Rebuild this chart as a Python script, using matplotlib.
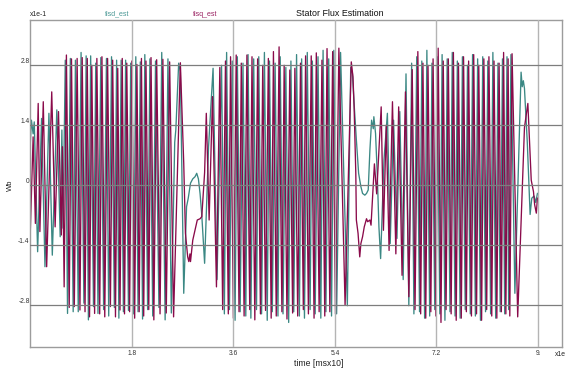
import matplotlib
matplotlib.use('Agg')
import matplotlib.pyplot as plt

plt.rcParams['font.family'] = ['Liberation Sans', 'DejaVu Sans']

# flsd_est (teal) - turning points, units x1e-1 Wb
t_flsd = [0.00, 0.02, 0.05, 0.07, 0.13, 0.20, 0.26, 0.33, 0.39, 0.47, 0.53, 0.56, 0.58, 0.62,
          0.66, 0.71, 0.76, 0.80, 0.85, 0.90, 0.95, 0.99, 1.03, 1.07, 1.12, 1.16, 1.20, 1.25,
          1.30, 1.35, 1.39, 1.44, 1.49, 1.53, 1.57, 1.61, 1.65, 1.69, 1.74, 1.78, 1.83, 1.87,
          1.91, 1.95, 1.99, 2.03, 2.08, 2.12, 2.17, 2.22, 2.28, 2.33, 2.39, 2.44, 2.50,
          2.56, 2.58, 2.63, 2.66, 2.72, 2.75, 2.77, 2.80, 2.84, 2.88, 2.92, 2.95, 2.98, 3.01,
          3.04, 3.09, 3.16, 3.24, 3.31,
          3.39, 3.44, 3.48, 3.53, 3.58, 3.63, 3.67, 3.72, 3.77, 3.82, 3.86, 3.91, 3.96, 4.01,
          4.05, 4.10, 4.15, 4.20, 4.24, 4.29, 4.34, 4.39, 4.43, 4.48, 4.53, 4.58, 4.62, 4.67,
          4.72, 4.77, 4.81, 4.86, 4.91, 4.96, 5.00, 5.05, 5.10, 5.15, 5.19, 5.24, 5.29, 5.34,
          5.38, 5.43, 5.50, 5.62,
          5.68, 5.71, 5.74, 5.78, 5.82, 5.86, 5.89, 5.93, 5.96, 5.99, 6.02, 6.05, 6.08, 6.09,
          6.12, 6.15, 6.18, 6.21, 6.27, 6.33, 6.38, 6.44, 6.50, 6.55, 6.61, 6.66, 6.71, 6.76,
          6.80,
          6.85, 6.90, 6.94, 6.99, 7.03, 7.08, 7.12, 7.17, 7.21, 7.26, 7.30, 7.35, 7.39, 7.44,
          7.48, 7.53, 7.57, 7.62, 7.66, 7.71, 7.75, 7.80, 7.84, 7.89, 7.93, 7.98, 8.02, 8.07,
          8.11, 8.16, 8.20, 8.25, 8.29, 8.33, 8.37, 8.41, 8.45, 8.48, 8.52, 8.59,
          8.70, 8.72, 8.74, 8.76, 8.81, 8.85, 8.86, 8.89, 8.93, 8.96, 8.99]
flsd = [0.98, 1.52, 1.20, 1.48, -1.55, 1.56, -1.90, 1.68, -1.63, 1.76, -1.20, 1.29, -1.00, 2.92,
        -2.99, 2.96, -2.95, 2.92, -2.95, 3.10, -2.75, 3.02, -3.14, 3.02, -2.83, 2.85, -2.99, 2.98,
        -2.90, 2.96, -3.05, 3.00, -2.85, 2.92, -3.10, 2.92, -2.95, 2.92, -2.92, 2.85, -3.00, 3.00,
        -2.95, 2.88, -3.12, 3.05, -2.90, 2.95, -3.05, 2.90, -2.85, 3.10, -3.14, 2.95, -2.98,
        1.00, 1.30, 2.85, 2.65, -2.52, -1.30, -0.50, -0.30, 0.05, 0.15, 0.20, 0.28, 0.15, -0.20,
        -0.70, -1.82, 0.90, 2.73, -2.20,
        2.80, -3.00, 3.10, -2.90, 2.90, -3.15, 3.00, -2.95, 2.85, -3.05, 3.05, -3.10, 2.95, -2.90,
        3.00, -3.00, 3.10, -3.15, 2.90, -2.95, 2.85, -3.05, 3.00, -3.00, 2.75, -3.20, 2.90, -2.95,
        3.05, -3.05, 2.95, -3.10, 3.10, -2.90, 2.90, -3.00, 3.00, -3.10, 3.15, -2.95, 2.95, -3.05,
        3.15, -3.00, 3.10, -2.81,
        2.75, 2.61, 1.91, 1.06, 0.28, -0.03, -0.19, -0.23, -0.19, -0.11, 0.82, 1.52, 1.32, 1.60,
        1.21, 0.28, -0.97, -1.71, 0.60, 1.68, -1.36, 1.52, -1.24, 1.72, -2.20, 2.60, -2.81, 2.85,
        -3.00,
        3.00, -2.95, 2.90, -3.10, 3.15, -3.05, 2.85, -2.90, 3.00, -3.00, 3.05, -3.15, 2.95, -2.95,
        3.10, -3.05, 2.90, -3.10, 3.00, -2.90, 2.80, -3.00, 3.05, -3.05, 2.95, -3.15, 3.00, -2.95,
        2.90, -3.00, 3.10, -3.10, 2.85, -2.95, 2.95, -3.00, 3.00, -2.90, 3.05, -2.52,
        2.64, 2.30, 2.44, 2.26, 1.00, -0.34, -0.68, -0.30, -0.25, -0.40, -0.19]

# flsq_est (maroon)
t_flsq = [0.00, 0.05, 0.09, 0.14, 0.17, 0.23, 0.29, 0.38, 0.44, 0.50, 0.55, 0.57, 0.60,
          0.64, 0.69, 0.73, 0.78, 0.83, 0.88, 0.92, 0.97, 1.01, 1.05, 1.09, 1.14, 1.18, 1.23,
          1.27, 1.32, 1.37, 1.42, 1.46, 1.51, 1.55, 1.59, 1.63, 1.67, 1.71, 1.76, 1.80, 1.85,
          1.89, 1.93, 1.97, 2.01, 2.05, 2.10, 2.14, 2.19, 2.24, 2.30, 2.35, 2.41, 2.47, 2.54,
          2.66, 2.72, 2.75, 2.79, 2.81, 2.83, 2.84, 2.88, 2.96, 3.01, 3.04, 3.09, 3.12, 3.17,
          3.23, 3.30,
          3.36, 3.41, 3.46, 3.51, 3.55, 3.60, 3.65, 3.70, 3.74, 3.79, 3.84, 3.89, 3.93, 3.98,
          4.03, 4.08, 4.12, 4.17, 4.22, 4.27, 4.31, 4.36, 4.41, 4.46, 4.50, 4.55, 4.60, 4.65,
          4.69, 4.74, 4.79, 4.84, 4.88, 4.93, 4.98, 5.03, 5.07, 5.12, 5.17, 5.22, 5.26, 5.31,
          5.36, 5.41, 5.47, 5.58,
          5.69, 5.72, 5.74, 5.77, 5.78, 5.81, 5.84, 5.86, 5.89, 5.92, 5.96, 5.98, 6.02, 6.04,
          6.10, 6.14, 6.22, 6.26, 6.31, 6.36, 6.42, 6.48, 6.53, 6.59, 6.65, 6.71, 6.77, 6.82,
          6.87, 6.92, 6.96, 7.01, 7.05, 7.10, 7.14, 7.19, 7.23, 7.28, 7.32, 7.37, 7.41, 7.46,
          7.50, 7.55, 7.59, 7.64, 7.68, 7.73, 7.77, 7.82, 7.86, 7.91, 7.95, 8.00, 8.04, 8.09,
          8.13, 8.18, 8.22, 8.27, 8.31, 8.35, 8.39, 8.43, 8.47, 8.50, 8.54, 8.64,
          8.76, 8.82, 8.88, 8.92, 8.94, 8.97, 8.99]
flsq = [-1.08, 1.13, -0.89, 1.91, -1.08, 1.95, -1.90, 2.18, -0.97, 1.72, -1.16, 0.90, -2.37,
        3.04, -2.85, 2.95, -2.83, 2.96, -2.91, 2.98, -2.95, 2.96, -3.07, 2.80, -2.99, 2.96, -3.00,
        3.00, -3.07, 2.96, -2.83, 2.92, -3.07, 2.73, -2.91, 2.96, -3.00, 2.85, -2.95, 2.90, -3.10,
        2.82, -2.95, 2.96, -3.05, 2.90, -2.90, 2.98, -3.14, 2.93, -3.00, 2.94, -2.98, 2.88, -3.07,
        2.86, 0.51, -1.12, -1.67, -1.78, -1.60, -1.78, -1.28, -0.81, -0.78, -0.73, 0.30, 1.68, -0.81,
        2.07, -2.37,
        2.75, -2.90, 2.90, -3.00, 3.00, -3.10, 3.04, -2.95, 2.85, -3.05, 3.04, -2.90, 3.00, -3.14,
        2.95, -3.00, 2.80, -2.92, 2.96, -3.10, 3.12, -3.05, 3.23, -2.95, 2.80, -3.12, 2.69, -2.98,
        2.73, -3.05, 2.85, -2.90, 3.02, -3.00, 3.02, -3.10, 3.09, -2.95, 2.92, -3.05, 3.19, -2.95,
        3.12, -3.00, 3.20, -2.80,
        2.88, 2.53, 1.83, 0.28, -0.81, -1.12, -1.67, -1.36, -1.20, -0.97, -0.78, -0.85, -0.81, -0.93,
        0.50, -0.20, 1.83, -1.05, 1.40, -1.52, 1.95, -1.60, 1.83, -2.10, 2.18, -2.60, 2.70, -2.90,
        3.12, -3.00, 2.85, -3.10, 2.80, -2.95, 2.95, -3.05, 3.20, -3.20, 2.90, -2.90, 2.95, -3.00,
        3.10, -3.15, 2.85, -3.10, 3.00, -2.95, 2.90, -3.05, 3.05, -3.00, 2.80, -3.15, 2.95, -2.90,
        3.00, -3.05, 2.90, -3.10, 2.85, -2.95, 3.10, -3.00, 2.95, -3.05, 3.07, -3.07,
        1.35, 1.91, 0.12, -0.15, -0.45, -0.65, -0.30]

xticks = [1.8, 3.6, 5.4, 7.2, 9.0]
xtick_labels = ['1.8', '3.6', '5.4', '7.2', '9.']
yticks = [-2.8, -1.4, 0.0, 1.4, 2.8]
ytick_labels = ['-2.8', '-1.4', '0', '1.4', '2.8']

teal = '#3b8884'
maroon = '#8a0a4a'

W, H = 566, 369
fig = plt.figure(figsize=(W / 100, H / 100), dpi=100)
ax = fig.add_axes([30.3 / W, 1 - 347.3 / H, (561.7 - 30.3) / W, (347.3 - 19.7) / H])

ax.plot(t_flsd, flsd, color=teal, lw=0.95)
ax.plot(t_flsq, flsq, color=maroon, lw=0.95)

ax.set_xlim(0, 9.42)
ax.set_ylim(-3.78, 3.864)
ax.set_xticks(xticks)
ax.set_xticklabels(xtick_labels)
ax.set_yticks(yticks)
ax.set_yticklabels(ytick_labels)
for lab in ax.get_yticklabels():
    lab.set_va('bottom')
ax.tick_params(length=0, labelsize=4.8, colors='#333333')
ax.tick_params(axis='x', pad=2)
ax.tick_params(axis='y', pad=0.5)

# grid drawn on top of the traces
ax.set_axisbelow(False)
ax.xaxis.grid(True, color='#b4b4b4', lw=1.0)
ax.yaxis.grid(True, color='#7d7d7d', lw=0.9)
for s in ax.spines.values():
    s.set_color('#9c9c9c')
    s.set_linewidth(1.0)

def px_text(x, y, s, **kw):
    fig.text(x / W, 1 - y / H, s, **kw)

px_text(339.5, 13, 'Stator Flux Estimation', fontsize=6.4, ha='center', va='center', color='#111111')
px_text(117, 14, 'flsd_est', fontsize=5.0, ha='center', va='center', color='#4a9895')
px_text(205.5, 14, 'flsq_est', fontsize=5.0, ha='center', va='center', color='#9a2262')
px_text(29.5, 14, 'x1e-1', fontsize=4.9, ha='left', va='center', color='#222222')
px_text(10, 185, 'Wb', fontsize=5.5, ha='center', va='center', rotation=90, color='#222222')
px_text(318.7, 363, 'time [msx10]', fontsize=6.2, ha='center', va='center', color='#222222')
px_text(555, 354, 'x1e', fontsize=4.9, ha='left', va='center', color='#222222')

fig.savefig('out.png', dpi=100)
